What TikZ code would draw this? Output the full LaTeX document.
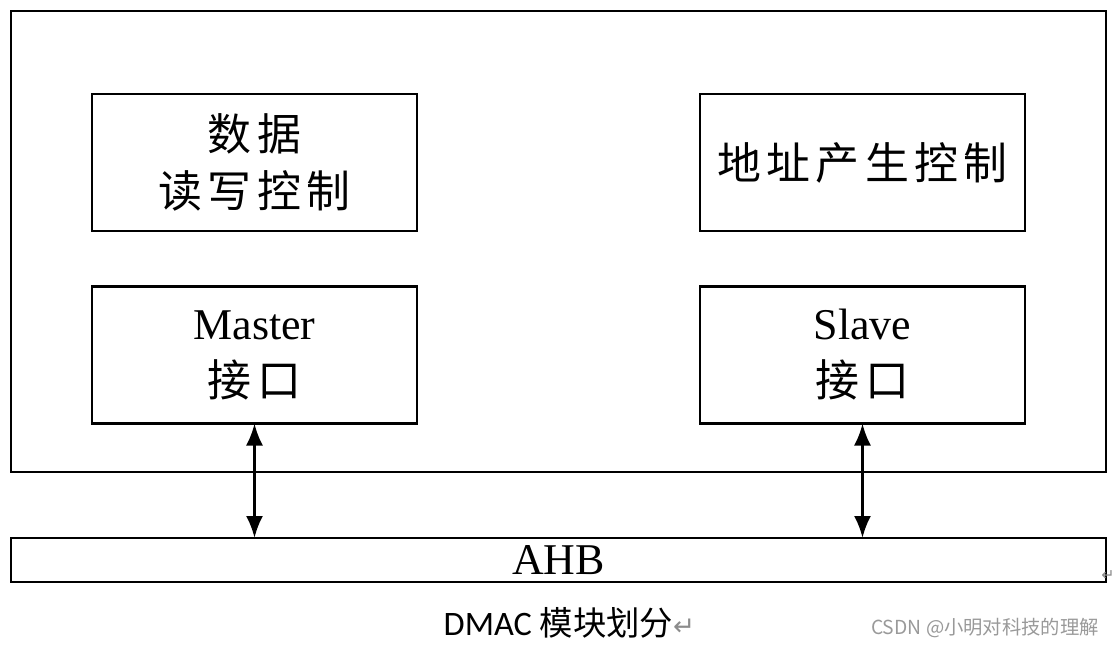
\documentclass[tikz,border=0pt]{standalone}
\usepackage{fontspec}
\setmainfont{Liberation Serif}
\newfontfamily\cjk[LetterSpace=12]{Noto Sans CJK SC}
\newfontfamily\cjkplain{Noto Sans CJK SC}
\newfontfamily\capfont{Carlito}
\newfontfamily\symfont{DejaVu Sans}
\usepackage{tikz}
\usetikzlibrary{positioning,arrows.meta}
\tikzstyle{signal}=[arrows={Latex[length=4.4mm,width=3.4mm]-Latex[length=4.4mm,width=3.4mm]},draw=black,line width=1.6pt]
\tikzstyle{block}=[draw=black,line width=1.6pt]
\def\unitwidth{6.5cm}
\def\unitheight{2.74cm}
\tikzstyle{unit}=[style=block, inner sep=0pt, outer sep=0pt,
    text centered, align=center, font=\fontsize{25}{32.5}\selectfont,
    minimum width=\unitwidth, minimum height=\unitheight]
\tikzstyle{bus}=[style=block, inner sep=0pt, outer sep=0pt,
    minimum width=21.9cm, minimum height=0.88cm, font=\fontsize{25}{30}\selectfont]
\colorlet{mark}{black!45}

\begin{document}
\begin{tikzpicture}[node distance=1.11cm]
    \useasboundingbox (0,0) rectangle (22.3,12.92);
    % DMAC frame and its units
    \node[block, minimum width=21.9cm, minimum height=9.22cm, outer sep=0pt] (dmac) at (11.17,8.09) {};
    \node[unit] (datactl) at (5.09,9.67) {\cjk 数据\\\cjk 读写控制};
    \node[unit, below=of datactl] (master) {Master\\\cjk 接口};
    \node[unit, right=5.66cm of datactl] (addrctl) {\cjk 地址产生控制};
    \node[unit, below=of addrctl] (slave) {Slave\\\cjk 接口};
    % bus
    \node[bus] (ahb) at (11.17,1.72) {AHB};
    \draw[signal] (master.south) -- (master.south |- ahb.north);
    \draw[signal] (slave.south) -- (slave.south |- ahb.north);
    % caption
    \node (caption) at (11.39,0.46) {\capfont\fontsize{19.5}{22}\selectfont DMAC {\cjkplain\fontsize{19}{22}\selectfont 模块划分}{\symfont\fontsize{15}{18}\selectfont\color{mark}↵}};
    \node[anchor=east, inner sep=0pt] (busmark) at (22.3,1.40) {\symfont\fontsize{9}{11}\selectfont\color{mark}↵};
    \node[text=black!40] (credit) at (19.7,0.36) {\cjkplain\fontsize{11}{14}\selectfont CSDN @小明对科技的理解};
\end{tikzpicture}
\end{document}
